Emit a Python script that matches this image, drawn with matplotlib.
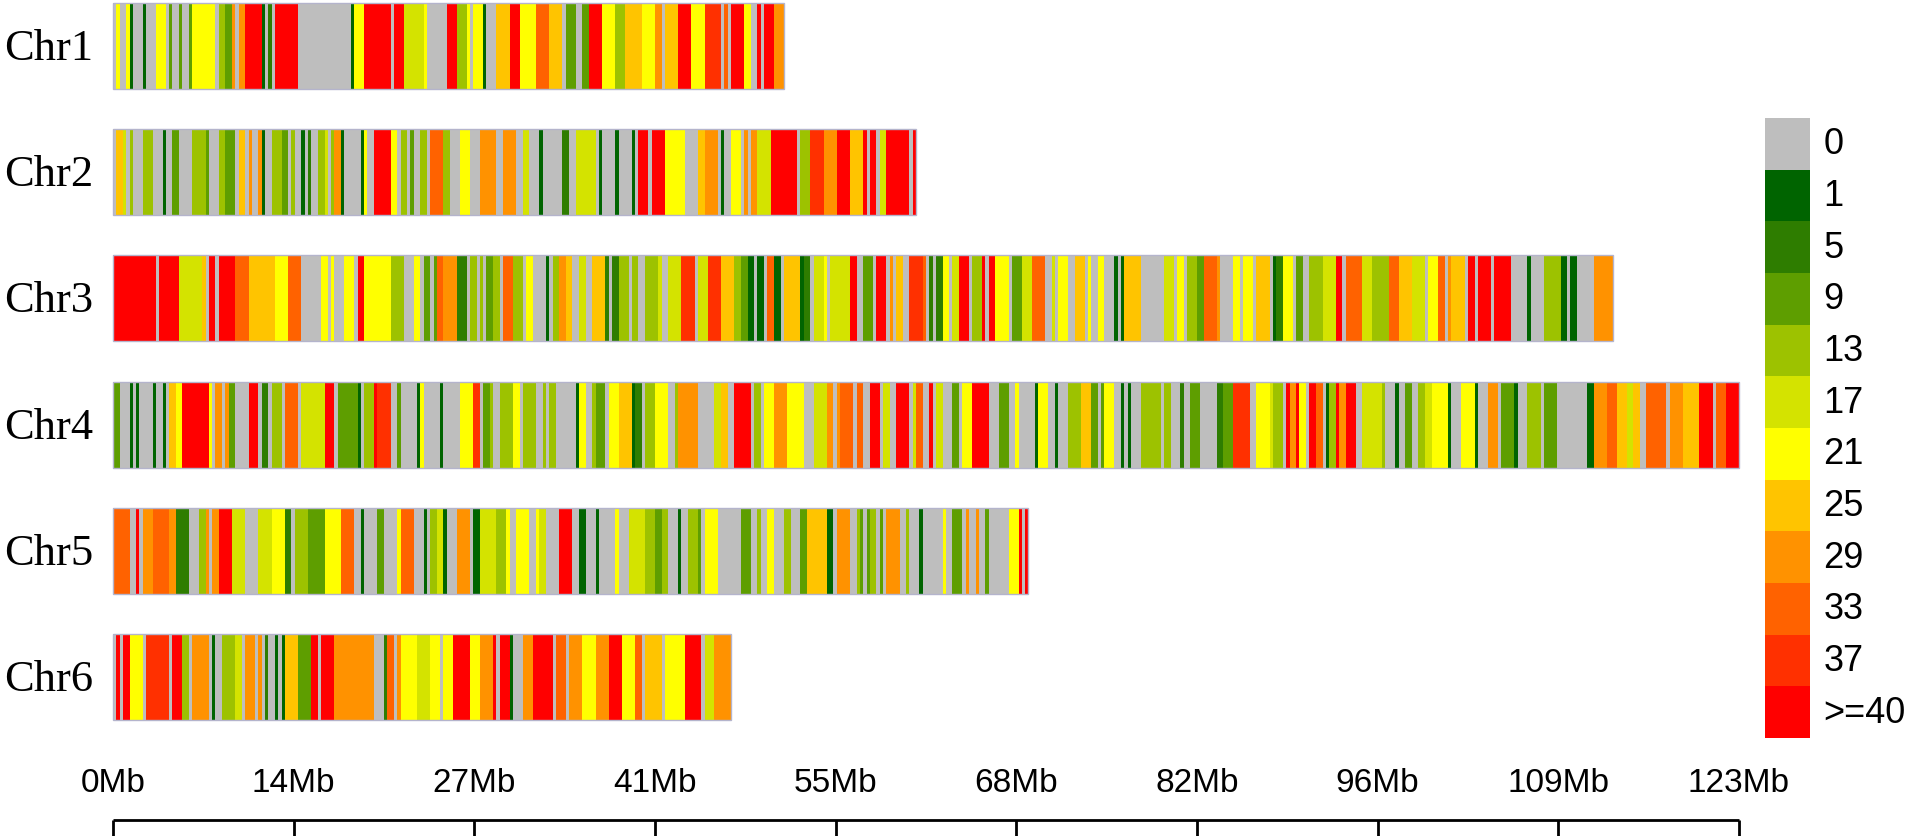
import matplotlib.pyplot as plt
from matplotlib.patches import Rectangle
from matplotlib.colors import ListedColormap
import numpy as np

# 每个窗口0.25Mb, 用 "等级*个数" 的游程写法记录各染色体的SNP密度等级 (0..b 对应图例的12档)
BIN_MB = 0.25

chrom_names = ["Chr1", "Chr2", "Chr3", "Chr4", "Chr5", "Chr6"]

chr1_runs = ("0 6 0*2 6 1 0*3 1 0*3 6*3 0 3 0*2 3 0*2 3 6*7 0 4*2 3*2 8 0 8*2 b*5 1 0 2 0 b*7 0*16 "
             "1 6*3 b*8 0 b*3 5*6 6 0*6 b*3 4*3 6 0 6*3 1 0*3 7*4 b*3 6*5 9*4 7*4 0 3*3 0*2 3*2 "
             "b*4 6*4 4*3 7*5 6*4 8*2 0 7*4 b*4 6*4 a*5 0 9 0 b*4 6*2 0*2 b 0 b*3 8*3")

chr2_runs = ("0 7*2 5 0 4 0*3 4*3 0*3 1 0*2 3*2 0*4 4*4 3 0*3 4*2 3*3 0 7*2 0 8 0*2 8 1 0*2 4*3 3*2 "
             "0 4 0*2 1 0 2 0*2 4*2 5 0 4 8*2 1 0*5 1 6 0*2 b*5 6*2 0 4*2 0 3 0*2 4*2 0 9*4 4*2 "
             "0*3 6*3 0*3 8*5 0*2 8*4 0*2 5*2 0*3 1 0*6 2*2 0*2 5*6 0 1 0*4 1 0*4 1 0 b*3 0 b*4 "
             "6*6 0*4 7*2 8*4 0 1 0*2 6*3 0 8 0 8*2 5*4 b*8 0 4*3 a*4 8*4 b*4 7*4 b 0 b*2 0 5*2 "
             "b*7 0 b")

chr3_runs = ("b*13 0 b*6 5*7 7 0 b*2 0 b*5 9*4 7*8 6*4 9*4 0*6 6*2 0 6 0*3 6*3 0 b*2 6*8 4*4 0*3 "
             "6*2 0 3*2 0 3 9*2 8*4 2*3 0 4*2 0 4 0 3*2 4*2 0 9*3 4*3 0 6*2 0*4 1 0 4*2 8*2 7*2 "
             "0*2 5*2 0*2 7*4 2 0 2*2 4*3 0 4*2 0*2 4*4 5 0*2 5*4 a*4 0 5*3 a*4 7*4 4*2 3*2 1*2 "
             "0 1*2 0 9*2 1*2 0 7*5 1 2*2 0 5*3 6 0 5*6 b*2 0*2 "
             "3*3 0 b*3 0 8 0 7*2 0*2 a*4 9 0 2 0 2*2 6*2 0 5*2 b*3 0 4*3 b 0 b*2 6*4 0 3*3 5*3 "
             "9*4 0*2 5 0 6*3 0*2 7*3 0 6 0*2 6*2 0*3 1 0 1 7*5 0*7 5*3 0 6*2 0 4*3 3*2 9*4 8 "
             "0*4 6*2 0 6*3 0 7*4 0 1 2*2 6*3 0 3*2 0*2 4*4 5*4 b*2 0 9*5 5*3 4*5 9*3 7*4 5*4 "
             "0 6*3 9*2 0 8 7*4 0 b*2 0 b*4 0 b*5 0*5 1 0*4 4*5 1*2 0 1*2 0*5 8*6")

chr4_runs = ("3*2 0*3 1 0 1 0*4 1 0*2 1 0 7*2 6*2 b*8 6 0 8*2 0 8 3*2 0*4 b*3 0 2*2 0 4*3 0 9*4 0 "
             "5*7 b*3 0 3*6 1 0 4*3 b a*4 0*2 3 0*5 1 6 0*5 1 0*5 6*4 a*2 0 3*2 4 0*2 4*4 6*2 0 "
             "4*4 0*2 4 0 4*2 0*6 1 6*2 0*2 4 3*3 0 6*3 7*4 1 2*2 0 4*3 6*4 0*2 4 8*6 0*5 5*2 "
             "7*2 0*2 b*5 0 4*2 0 6*3 8*4 6*5 0*3 5*4 8*2 0 8 9*4 0 9*2 0*2 b*3 0 5*2 0*2 b*4 0 5 "
             "9*2 0*2 b 0 5*2 0*3 3*2 0 6*3 b*5 0*3 3*3 0*2 6 0*5 1 6*3 0*2 1 0*3 4*4 7*3 3*2 0 "
             "3 6*3 0*2 1 0 1 0*3 4*6 0 4*2 0*3 2 0*2 3*3 0*5 2*2 3*3 a*5 0*2 6*4 5 4*3 0 b 8*2 "
             "b 6*2 0 b*2 9*2 0 1 4*2 b 8*2 b*3 0*2 5*6 4 0*3 1 0*2 3*2 0*2 4*2 5*2 6*5 1 0*3 "
             "6*4 1 0*3 8*3 0 3*4 1 0*3 4*4 0 3*4 0*9 1*2 8*4 9*3 7*3 5*2 7*2 0*2 9*6 0 8*4 7*5 "
             "b*4 0 9*3 b*4")

chr5_runs = ("9*5 0*2 b 0 8*3 9*5 8*2 2*4 0*3 4*2 8 0 8*2 b*4 5*4 0*4 5*4 6*4 2*2 0 4*4 3*5 6*5 "
             "9*4 0*2 1 0*4 3*2 0*4 6 9*4 0*3 1 0 4*2 5*2 1 0*3 8*4 0 1*2 5*5 4*3 6 0*2 6*4 0*2 "
             "6 5*2 0*4 b*4 0*2 1*2 0*3 1 0*5 6 0*3 5*5 4*3 3*2 4*2 0*3 1 0*2 4*3 3 0 6*4 0*7 "
             "3*3 0*2 4 0*2 6*2 0*3 4*2 0*3 3*2 7*6 1*2 0 8*4 0*2 4 3 0 3 4*2 0 3 0 8*4 0*2 4 "
             "0*3 1 0*6 6 0*2 3*3 0 8 0*2 8 0*2 3 0*6 6*3 b 0 b")

chr6_runs = ("0 b 0 b*2 6*4 0 a*7 0 b*3 4*2 0 8*5 0 1 0*2 4*4 5*2 0 8*3 0 8 0 2 0*2 1 0 1 7*4 "
             "3*4 b*2 0 b*4 8*12 0*3 2 9*2 0 8 6*5 5*4 6*3 0 6*3 b*5 6*3 8*4 b 0 b*3 1 0*3 8*3 "
             "b*6 0 9*3 0 8*4 6*4 8*4 b*4 6*4 9*2 0 7*5 0 6*6 b*5 0 5*3 8*5")

chrom_runs = [chr1_runs, chr2_runs, chr3_runs, chr4_runs, chr5_runs, chr6_runs]

density_labels = ["0", "1", "5", "9", "13", "17", "21", "25", "29", "33", "37", ">=40"]
density_colors = ["#BEBEBE", "#006400", "#2E7D00", "#5E9E00", "#9DC200", "#D4E300",
                  "#FFFF00", "#FFC400", "#FF9200", "#FF6200", "#FF3000", "#FF0000"]

axis_max_mb = 123
tick_labels = ["0Mb", "14Mb", "27Mb", "41Mb", "55Mb", "68Mb", "82Mb", "96Mb", "109Mb", "123Mb"]


def decode(runs):
    """游程串 -> 每个窗口的密度等级"""
    codes = []
    for tok in runs.split():
        c, _, n = tok.partition("*")
        codes += [int(c, 16)] * int(n or 1)
    return np.array(codes)


W, H = 1931, 837
X0, X1 = 113, 1739                  # 0Mb 与 123Mb 的像素位置
px_per_mb = (X1 - X0) / axis_max_mb

fig = plt.figure(figsize=(W / 100, H / 100), dpi=100)
ax = fig.add_axes([0, 0, 1, 1])
ax.set_xlim(-X0 / px_per_mb, (W - X0) / px_per_mb)
ax.set_ylim(H, 0)
ax.axis("off")

row_h = 86
for i, (name, runs) in enumerate(zip(chrom_names, chrom_runs)):
    top = 4 + 126.2 * i
    codes = decode(runs)
    # 合并相邻同色窗口, 避免出现接缝
    change = np.flatnonzero(np.diff(codes)) + 1
    starts = np.concatenate([[0], change])
    ends = np.concatenate([change, [len(codes)]])
    xr = [(s * BIN_MB, (e - s) * BIN_MB) for s, e in zip(starts, ends)]
    cols = [density_colors[codes[s]] for s in starts]
    ax.broken_barh(xr, (top, row_h), facecolors=cols, edgecolor="none")
    ax.add_patch(Rectangle((0, top), len(codes) * BIN_MB, row_h, fill=False,
                           edgecolor="#B4B4CC", lw=1))
    ax.text(-20 / px_per_mb, top + row_h / 2 + 2, name, ha="right", va="center",
            fontsize=32, family="Liberation Serif")

# 底部标尺
axis_y = 821
tick_pos = np.linspace(0, axis_max_mb, len(tick_labels))
ax.plot([0, axis_max_mb], [axis_y, axis_y], color="black", lw=2, solid_capstyle="butt")
ax.vlines(tick_pos, axis_y, axis_y + 20, color="black", lw=2)
for p, lab in zip(tick_pos, tick_labels):
    ax.text(p, 784, lab, ha="center", va="center", fontsize=24, family="Liberation Sans")

# 图例色条
lax = fig.add_axes([1765 / W, 1 - 739 / H, 45 / W, 620 / H])
lax.imshow(np.arange(len(density_colors)).reshape(-1, 1),
           cmap=ListedColormap(density_colors), aspect="auto", interpolation="nearest")
lax.axis("off")
for k, lab in enumerate(density_labels):
    lax.text(1.3, k, lab, transform=lax.get_yaxis_transform(), ha="left", va="center",
             fontsize=26, family="Liberation Sans")

fig.savefig("out.png", dpi=100)
